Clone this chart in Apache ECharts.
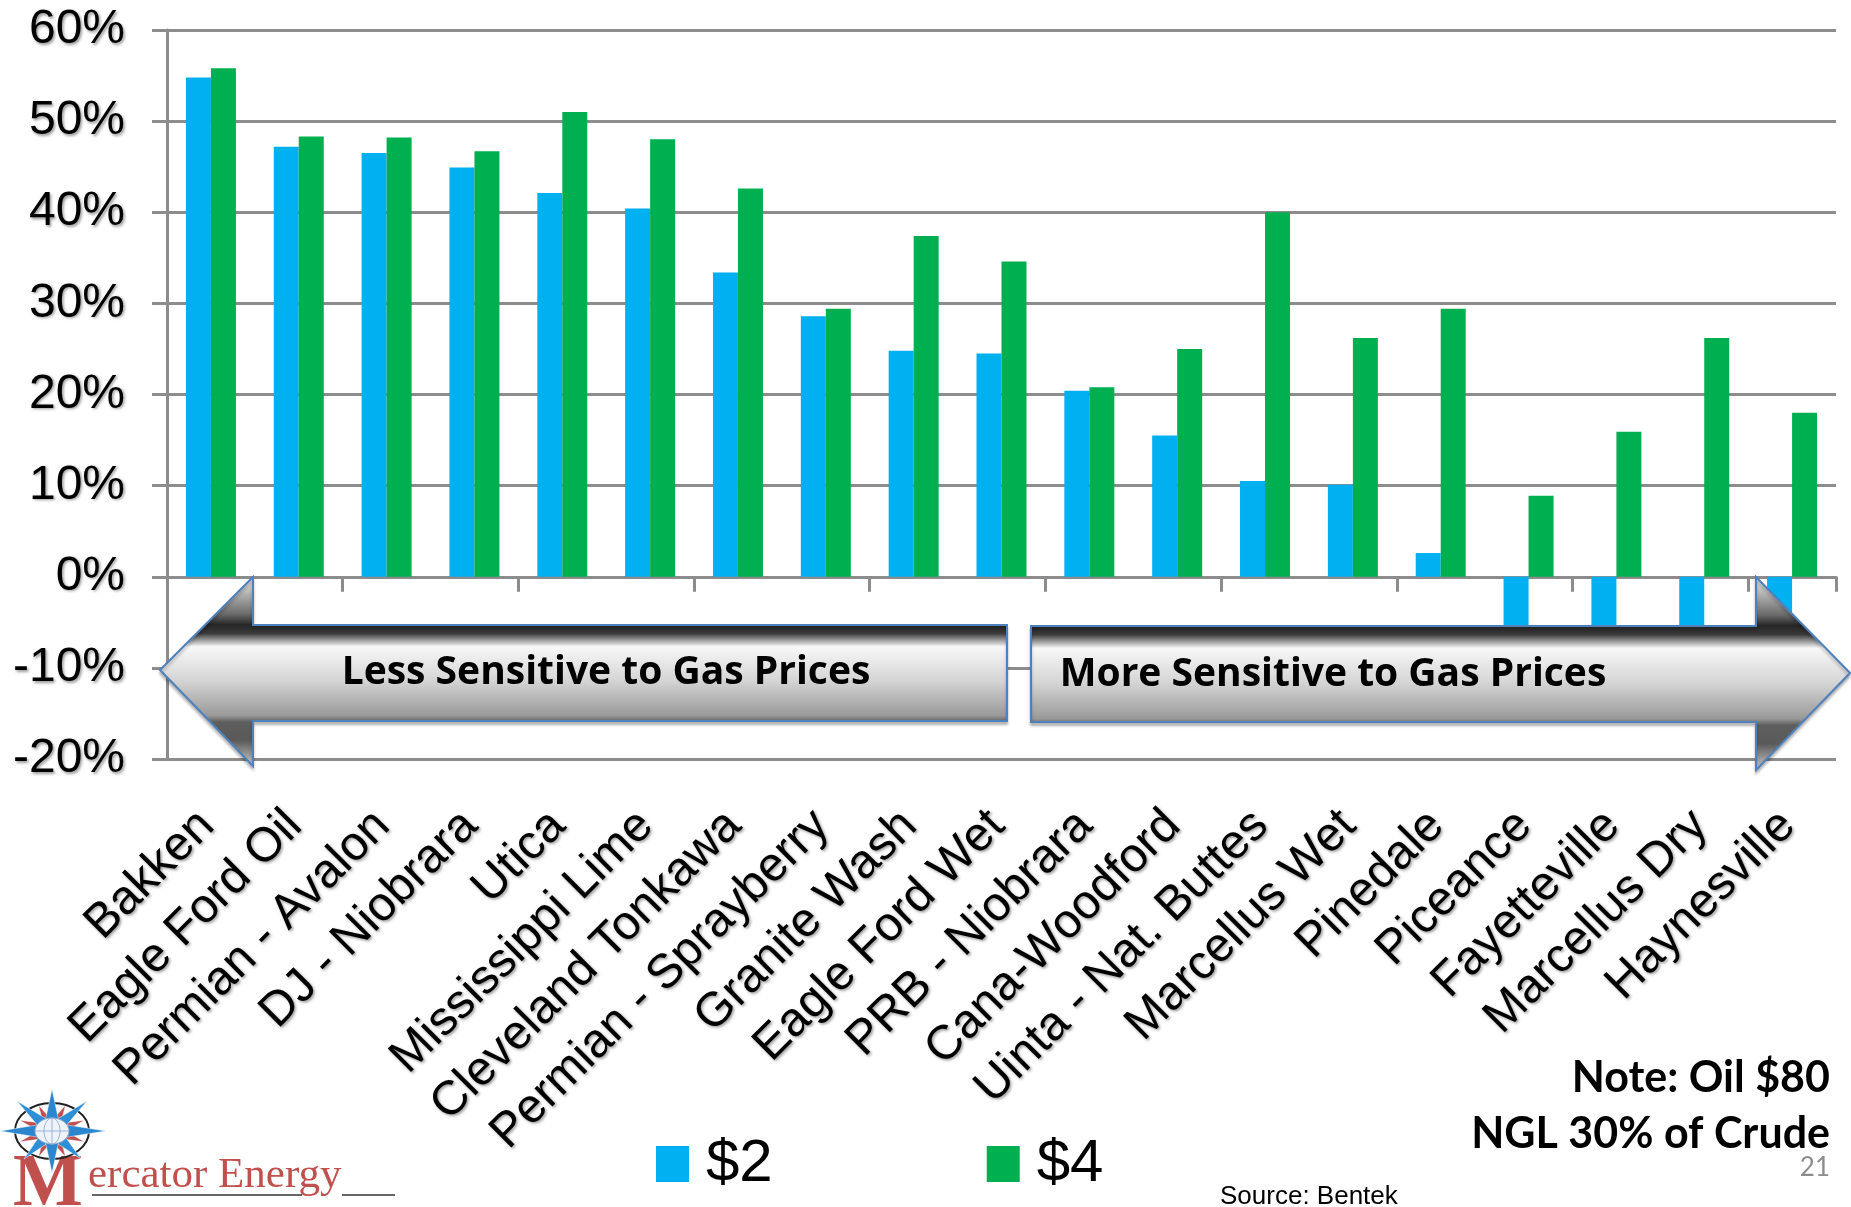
<!DOCTYPE html>
<html>
<head>
<meta charset="utf-8">
<script src="https://cdn.jsdelivr.net/npm/echarts@6/dist/echarts.min.js"></script>
<style>
  html, body { margin: 0; padding: 0; background: #fff; }
  #chart { width: 1851px; height: 1207px; }
</style>
</head>
<body>
<div id="chart"></div>
<script>
const categories = ['Bakken', 'Eagle Ford Oil', 'Permian - Avalon', 'DJ - Niobrara', 'Utica',
  'Mississippi Lime', 'Cleveland Tonkawa', 'Permian - Sprayberry', 'Granite Wash', 'Eagle Ford Wet',
  'PRB - Niobrara', 'Cana-Woodford', 'Uinta - Nat. Buttes', 'Marcellus Wet', 'Pinedale',
  'Piceance', 'Fayetteville', 'Marcellus Dry', 'Haynesville'];
const gas2 = [54.8, 47.2, 46.5, 44.9, 42.1, 40.4, 33.4, 28.6, 24.8, 24.5, 20.4, 15.5, 10.5, 10.1, 2.6, -12, -12, -12, -10];
const gas4 = [55.8, 48.3, 48.2, 46.7, 51.0, 48.0, 42.6, 29.4, 37.4, 34.6, 20.8, 25.0, 40.0, 26.2, 29.4, 8.9, 15.9, 26.2, 18.0];
const seriesNames = ['$2', '$4'];
const yMin = -20, yMax = 60, yStep = 10;

const chart = echarts.init(document.getElementById('chart'), null, { renderer: 'canvas' });
const GRAY = '#8c8c8c';
const shadow = { textShadowColor: 'rgba(0,0,0,0.4)', textShadowBlur: 3, textShadowOffsetX: 1.5, textShadowOffsetY: 1.5 };

function arrowGradient() {
  return new echarts.graphic.LinearGradient(0, 0, 0, 1, [
    { offset: 0, color: '#f2f2f2' },
    { offset: 0.2, color: '#6a6a6a' },
    { offset: 0.255, color: '#262626' },
    { offset: 0.3, color: '#3a3a3a' },
    { offset: 0.37, color: '#f8f8f8' },
    { offset: 0.55, color: '#d4d4d4' },
    { offset: 0.73, color: '#9a9a9a' },
    { offset: 0.765, color: '#5e5e5e' },
    { offset: 0.86, color: '#5a5a5a' },
    { offset: 1, color: '#cfcfcf' }
  ]);
}

const leftArrow = [[160, 670], [253, 577], [253, 625], [1007, 625], [1007, 721], [253, 721], [253, 766]];
const rightArrow = [[1031, 626], [1756, 626], [1756, 577], [1850, 673], [1756, 770], [1756, 722], [1031, 722]];

// Logo star
const cx = 52, cy = 1131;
function kite(dx, dy, halfW, color, z) {
  const len = Math.sqrt(dx * dx + dy * dy);
  const ux = dx / len, uy = dy / len;
  const px = -uy, py = ux;
  const b = 9;
  return {
    type: 'polygon', z: z,
    shape: { points: [[cx + dx, cy + dy], [cx + ux * b + px * halfW, cy + uy * b + py * halfW], [cx, cy], [cx + ux * b - px * halfW, cy + uy * b - py * halfW]] },
    style: { fill: color, stroke: 'rgba(255,255,255,0.6)', lineWidth: 0.8 }
  };
}
const starEls = [];
for (let i = 0; i < 8; i++) {
  const a = (i * 45 + 22.5) * Math.PI / 180;
  starEls.push(kite(Math.cos(a) * 35, Math.sin(a) * 28, 5, '#c0504d', 120));
}
starEls.push({ type: 'ellipse', z: 121, shape: { cx: cx, cy: cy, rx: 37, ry: 28 }, style: { fill: 'none', stroke: '#222', lineWidth: 2 } });
[[-35, -30], [35, -30], [-28, 28], [29, 28]].forEach(p => starEls.push(kite(p[0], p[1], 6, '#2f8fd6', 122)));
[[-52, 0], [54, 0], [0, -42], [0, 42]].forEach(p => starEls.push(kite(p[0], p[1], 7, '#2a86cf', 123)));
starEls.push({ type: 'ellipse', z: 124, shape: { cx: cx, cy: cy, rx: 17, ry: 13 }, style: { fill: '#eef3fa', stroke: '#8fa8c8', lineWidth: 1 } });
starEls.push({ type: 'line', z: 125, shape: { x1: cx - 17, y1: cy, x2: cx + 17, y2: cy }, style: { stroke: '#9bb3d3', lineWidth: 1 } });
starEls.push({ type: 'line', z: 125, shape: { x1: cx, y1: cy - 13, x2: cx, y2: cy + 13 }, style: { stroke: '#9bb3d3', lineWidth: 1 } });
starEls.push({ type: 'ellipse', z: 125, shape: { cx: cx, cy: cy, rx: 8, ry: 13 }, style: { fill: 'none', stroke: '#9bb3d3', lineWidth: 1 } });

const option = {
  backgroundColor: '#ffffff',
  animation: false,
  grid: { left: 167, right: 15, top: 30, bottom: 448, containLabel: false },
  legend: {
    data: seriesNames,
    left: 651, top: 1129,
    itemWidth: 33, itemHeight: 36, itemGap: 214,
    icon: 'rect',
    textStyle: { fontFamily: 'Liberation Sans', fontSize: 60, color: '#000', padding: [0, 0, 0, 12], lineHeight: 60 }
  },
  xAxis: [
    {
      type: 'category', data: categories,
      axisLine: { show: true, onZero: true, lineStyle: { color: GRAY, width: 3 } },
      axisTick: { show: true, length: 15, lineStyle: { color: GRAY, width: 3 } },
      axisLabel: { show: false },
      splitLine: { show: false }
    },
    {
      type: 'category', data: categories, position: 'bottom',
      axisLine: { show: false, onZero: false },
      axisTick: { show: false },
      axisLabel: Object.assign({
        show: true, interval: 0, rotate: 45, margin: 55,
        fontFamily: 'Liberation Sans', fontSize: 48, color: '#000',
        padding: [0, 6, 0, 0]
      }, shadow),
      splitLine: { show: false }
    }
  ],
  yAxis: {
    type: 'value', min: yMin, max: yMax, interval: yStep,
    axisLine: { show: true, lineStyle: { color: GRAY, width: 3 } },
    axisTick: { show: true, length: 15, lineStyle: { color: GRAY, width: 3 } },
    splitLine: { show: true, lineStyle: { color: GRAY, width: 3 } },
    axisLabel: Object.assign({
      formatter: '{value}%', margin: 42,
      fontFamily: 'Liberation Sans', fontSize: 48, color: '#000'
    }, shadow)
  },
  series: [
    { name: seriesNames[0], type: 'bar', data: gas2, barWidth: 25, barGap: '0%', xAxisIndex: 0, itemStyle: { color: '#00b0f0' } },
    { name: seriesNames[1], type: 'bar', data: gas4, barWidth: 25, barGap: '0%', xAxisIndex: 0, itemStyle: { color: '#00b050' } }
  ],
  graphic: [
    {
      type: 'polygon', z: 100, shape: { points: leftArrow },
      style: { fill: arrowGradient(), stroke: '#4f81bd', lineWidth: 2, shadowColor: 'rgba(0,0,0,0.25)', shadowBlur: 3, shadowOffsetY: 3 }
    },
    {
      type: 'polygon', z: 100, shape: { points: rightArrow },
      style: { fill: arrowGradient(), stroke: '#4f81bd', lineWidth: 2, shadowColor: 'rgba(0,0,0,0.25)', shadowBlur: 3, shadowOffsetY: 3 }
    },
    {
      type: 'text', z: 101, x: 606, y: 673,
      style: { text: 'Less Sensitive to Gas Prices', fontFamily: 'Open Sans', fontWeight: 'bold', fontSize: 39, fill: '#000', align: 'center', verticalAlign: 'middle' }
    },
    {
      type: 'text', z: 101, x: 1333, y: 675,
      style: { text: 'More Sensitive to Gas Prices', fontFamily: 'Open Sans', fontWeight: 'bold', fontSize: 39, fill: '#000', align: 'center', verticalAlign: 'middle' }
    },
    {
      type: 'text', z: 101, x: 1830, y: 1078,
      style: { text: 'Note: Oil $80', fontFamily: 'Lato', fontWeight: 'bold', fontSize: 43, fill: '#000', align: 'right', verticalAlign: 'middle' }
    },
    {
      type: 'text', z: 101, x: 1830, y: 1134,
      style: { text: 'NGL 30% of Crude', fontFamily: 'Lato', fontWeight: 'bold', fontSize: 43, fill: '#000', align: 'right', verticalAlign: 'middle' }
    },
    {
      type: 'text', z: 101, x: 1830, y: 1168,
      style: { text: '21', fontFamily: 'Lato', fontSize: 26, fill: '#8c8c8c', align: 'right', verticalAlign: 'middle' }
    },
    {
      type: 'text', z: 101, x: 1220, y: 1197,
      style: { text: 'Source: Bentek', fontFamily: 'Liberation Sans', fontSize: 26, fill: '#000', align: 'left', verticalAlign: 'middle' }
    },
    {
      type: 'text', z: 110, x: 13, y: 1186,
      style: { text: 'M', fontFamily: 'Liberation Serif', fontWeight: 'bold', fontSize: 74, fill: '#c0504d', align: 'left', verticalAlign: 'middle' }
    },
    {
      type: 'text', z: 110, x: 88, y: 1176,
      style: { text: 'ercator Energy', fontFamily: 'Liberation Serif', fontSize: 43, fill: '#c0504d', align: 'left', verticalAlign: 'middle' }
    },
    { type: 'line', z: 109, shape: { x1: 92, y1: 1195, x2: 302, y2: 1195 }, style: { stroke: '#333', lineWidth: 1.5 } },
    { type: 'line', z: 109, shape: { x1: 342, y1: 1195, x2: 395, y2: 1195 }, style: { stroke: '#333', lineWidth: 1.5 } }
  ].concat(starEls)
};
chart.setOption(option);
</script>
</body>
</html>
